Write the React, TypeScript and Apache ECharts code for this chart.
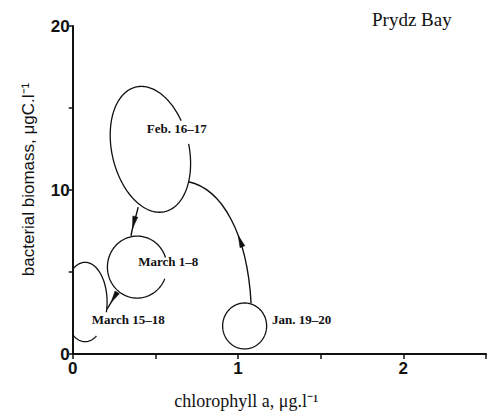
import React, { useEffect, useRef } from "react";
import * as echarts from "echarts";

// Sampling periods (loops) in Prydz Bay
const sampleDates = ["Jan. 19–20", "Feb. 16–17", "March 1–8", "March 15–18"];
const chlorophyllCentre = [1.04, 0.47, 0.39, 0.075];
const biomassCentre = [1.71, 12.48, 5.3, 3.17];
const chlorophyllSpread = [0.133, 0.233, 0.18, 0.133];
const biomassSpread = [1.4, 3.9, 1.89, 2.42];
const loopTilt = [0, 13, 0, 0];
const gapStart = [0, -3, -22, -58];
const gapEnd = [0, 19, 18, -15];
const labelChlorophyll = [1.206, 0.448, 0.396, 0.115];
const labelBiomass = [2.13, 13.72, 5.61, 2.13];

// Transitions between sampling periods: start, control 1, control 2, end
const transitionChlorophyll = [
  [1.079, 1.056, 0.905, 0.7],
  [0.396, 0.383, 0.359, 0.353],
  [0.267, 0.25, 0.226, 0.208],
];
const transitionBiomass = [
  [3.11, 7.32, 10.06, 10.5],
  [8.96, 8.35, 7.74, 7.2],
  [3.78, 3.41, 3.05, 2.74],
];
const arrowPosition = [0.38, 0.72, 0.6];

const xTicks = [0, 1, 2];
const yTicks = [0, 10, 20];

const loopData = sampleDates.map((_, i) => [
  chlorophyllCentre[i],
  biomassCentre[i],
  chlorophyllSpread[i],
  biomassSpread[i],
  loopTilt[i],
  gapStart[i],
  gapEnd[i],
  labelChlorophyll[i],
  labelBiomass[i],
]);

const transitionData = transitionChlorophyll.map((xs, i) => [
  xs[0], transitionBiomass[i][0],
  xs[1], transitionBiomass[i][1],
  xs[2], transitionBiomass[i][2],
  xs[3], transitionBiomass[i][3],
  arrowPosition[i],
]);

export default function App() {
  const ref = useRef<HTMLDivElement>(null);
  useEffect(() => {
    if (!ref.current) return;
    document.body.style.margin = "0";
    const chart = echarts.init(ref.current, null, { renderer: "svg" });
    const option: any = {
      animation: false,
      backgroundColor: "#ffffff",
      title: {
        text: "Prydz Bay",
        left: 367,
        top: 5,
        textStyle: {
          fontFamily: "Liberation Serif",
          fontWeight: "normal",
          fontSize: 19,
          color: "#111",
        },
      },
      grid: { left: 72.7, right: 3, top: 26, bottom: 60, containLabel: false },
      xAxis: {
        type: "value",
        min: 0,
        max: 2.5,
        interval: 0.5,
        name: "chlorophyll a, μg.l⁻¹",
        nameLocation: "middle",
        nameGap: 38,
        nameTextStyle: {
          fontFamily: "Liberation Serif",
          fontSize: 18,
          color: "#111",
          padding: [0, 66, 0, 0],
        },
        axisLine: { lineStyle: { color: "#111", width: 2 } },
        axisTick: { length: 5, lineStyle: { color: "#111", width: 1.5 } },
        axisLabel: {
          margin: 6,
          fontFamily: "Liberation Sans",
          fontWeight: "bold",
          fontSize: 17,
          color: "#111",
          formatter: (v: number) => (xTicks.includes(v) ? String(v) : ""),
        },
        splitLine: { show: false },
      },
      yAxis: {
        type: "value",
        min: 0,
        max: 20,
        interval: 5,
        name: "bacterial biomass, μgC.l⁻¹",
        nameLocation: "middle",
        nameGap: 36,
        nameTextStyle: {
          fontFamily: "Liberation Sans",
          fontSize: 17,
          color: "#111",
          padding: [0, 0, 0, 21],
        },
        axisLine: { lineStyle: { color: "#111", width: 2 } },
        axisTick: { length: 4, lineStyle: { color: "#111", width: 1.5 } },
        axisLabel: {
          margin: 3,
          fontFamily: "Liberation Sans",
          fontWeight: "bold",
          fontSize: 17,
          color: "#111",
          formatter: (v: number) => (yTicks.includes(v) ? String(v) : ""),
        },
        splitLine: { show: false },
      },
      series: [
        {
          type: "custom",
          name: "loops",
          clip: true,
          data: loopData,
          renderItem: (params: any, api: any) => {
            const c = api.coord([api.value(0), api.value(1)]);
            const s = api.size([api.value(2), api.value(3)]);
            const th = (api.value(4) * Math.PI) / 180;
            const g0 = api.value(5);
            const g1 = api.value(6);
            let startA = g1;
            let endA = g0 + 360;
            if (g0 === g1) {
              startA = 0;
              endA = 360;
            }
            const pts: number[][] = [];
            for (let a = startA; a <= endA + 0.001; a += 2) {
              const t = (a * Math.PI) / 180;
              const u = s[0] * Math.cos(t);
              const v = s[1] * Math.sin(t);
              pts.push([
                c[0] + u * Math.cos(th) - v * Math.sin(th),
                c[1] - u * Math.sin(th) - v * Math.cos(th),
              ]);
            }
            const lp = api.coord([api.value(7), api.value(8)]);
            return {
              type: "group",
              children: [
                {
                  type: "polyline",
                  shape: { points: pts },
                  style: { stroke: "#111", lineWidth: 1.3, fill: "none" },
                },
                {
                  type: "text",
                  x: lp[0],
                  y: lp[1],
                  style: {
                    text: sampleDates[params.dataIndex],
                    fill: "#111",
                    font: "bold 13px 'Liberation Serif'",
                    textAlign: "left",
                    textVerticalAlign: "middle",
                  },
                },
              ],
            };
          },
        },
        {
          type: "custom",
          name: "transitions",
          clip: true,
          data: transitionData,
          renderItem: (params: any, api: any) => {
            const p = [0, 1, 2, 3].map((k) =>
              api.coord([api.value(2 * k), api.value(2 * k + 1)])
            );
            const t = api.value(8);
            const mt = 1 - t;
            const bx =
              mt * mt * mt * p[0][0] + 3 * mt * mt * t * p[1][0] + 3 * mt * t * t * p[2][0] + t * t * t * p[3][0];
            const by =
              mt * mt * mt * p[0][1] + 3 * mt * mt * t * p[1][1] + 3 * mt * t * t * p[2][1] + t * t * t * p[3][1];
            const dx =
              3 * mt * mt * (p[1][0] - p[0][0]) + 6 * mt * t * (p[2][0] - p[1][0]) + 3 * t * t * (p[3][0] - p[2][0]);
            const dy =
              3 * mt * mt * (p[1][1] - p[0][1]) + 6 * mt * t * (p[2][1] - p[1][1]) + 3 * t * t * (p[3][1] - p[2][1]);
            const len = Math.hypot(dx, dy) || 1;
            const ux = dx / len;
            const uy = dy / len;
            const L = 12;
            const W = 2.6;
            const head = [
              [bx, by],
              [bx - ux * L - uy * W, by - uy * L + ux * W],
              [bx - ux * L + uy * W, by - uy * L - ux * W],
            ];
            return {
              type: "group",
              children: [
                {
                  type: "bezierCurve",
                  shape: {
                    x1: p[0][0], y1: p[0][1],
                    cpx1: p[1][0], cpy1: p[1][1],
                    cpx2: p[2][0], cpy2: p[2][1],
                    x2: p[3][0], y2: p[3][1],
                  },
                  style: { stroke: "#111", lineWidth: 1.4, fill: "none" },
                },
                {
                  type: "polygon",
                  shape: { points: head },
                  style: { fill: "#111", stroke: "#111", lineWidth: 0.5 },
                },
              ],
            };
          },
        },
      ],
    };
    chart.setOption(option);
    return () => chart.dispose();
  }, []);
  return (
    <div
      ref={ref}
      style={{ position: "absolute", left: 0, top: 0, width: 489, height: 415 }}
    />
  );
}
